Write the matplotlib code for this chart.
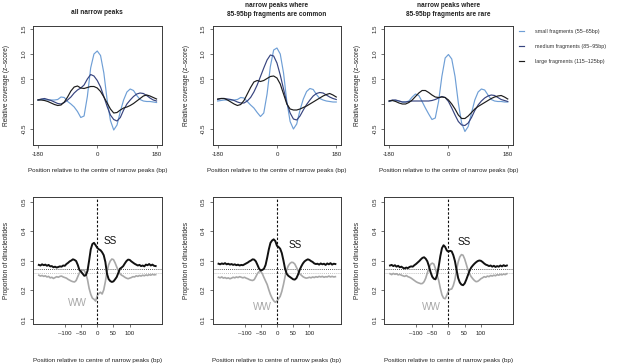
import numpy as np
import matplotlib
matplotlib.use("Agg")
from matplotlib import pyplot as plt

# ---- data: top row, relative coverage (z-score), every 10 bp ----
pos_top = list(range(-180, 181, 10))

small_all = [0.08, 0.09, 0.09, 0.08, 0.08, 0.08, 0.09, 0.14, 0.13, 0.05, 0.00, -0.06, -0.15,
             -0.27, -0.24, 0.15, 0.72, 1.00, 1.06, 0.97, 0.62, 0.08, -0.33, -0.52, -0.42,
             -0.15, 0.08, 0.24, 0.30, 0.27, 0.17, 0.09, 0.06, 0.05, 0.05, 0.04, 0.03]
medium_all = [0.08, 0.10, 0.11, 0.09, 0.07, 0.04, 0.01, 0.00, 0.03, 0.08, 0.14, 0.22, 0.28,
              0.32, 0.38, 0.50, 0.59, 0.56, 0.47, 0.34, 0.15, -0.05, -0.22, -0.31, -0.34,
              -0.27, -0.12, 0.00, 0.08, 0.15, 0.20, 0.22, 0.21, 0.17, 0.12, 0.08, 0.06]
large_all = [0.08, 0.08, 0.07, 0.05, 0.02, -0.01, -0.03, -0.02, 0.04, 0.14, 0.26, 0.34, 0.36,
             0.32, 0.31, 0.33, 0.35, 0.35, 0.32, 0.25, 0.14, 0.02, -0.10, -0.18, -0.17,
             -0.12, -0.08, -0.06, -0.03, 0.01, 0.06, 0.11, 0.16, 0.18, 0.16, 0.13, 0.10]

small_common = [0.06, 0.07, 0.08, 0.08, 0.08, 0.08, 0.09, 0.13, 0.12, 0.05, -0.02, -0.08, -0.17,
                -0.25, -0.18, 0.20, 0.75, 1.08, 1.12, 1.00, 0.62, 0.05, -0.35, -0.50, -0.40,
                -0.12, 0.10, 0.25, 0.31, 0.29, 0.19, 0.11, 0.08, 0.06, 0.05, 0.04, 0.04]
medium_common = [0.09, 0.11, 0.11, 0.10, 0.09, 0.07, 0.04, 0.02, 0.02, 0.06, 0.13, 0.24, 0.38,
                 0.55, 0.72, 0.88, 0.98, 0.96, 0.82, 0.58, 0.30, 0.02, -0.18, -0.30, -0.32,
                 -0.24, -0.12, -0.01, 0.08, 0.16, 0.21, 0.23, 0.22, 0.18, 0.14, 0.11, 0.09]
large_common = [0.10, 0.11, 0.11, 0.08, 0.04, 0.00, -0.03, -0.01, 0.07, 0.20, 0.33, 0.44, 0.47,
                0.45, 0.47, 0.51, 0.55, 0.56, 0.52, 0.40, 0.20, 0.00, -0.10, -0.12, -0.12,
                -0.10, -0.07, -0.04, 0.00, 0.04, 0.08, 0.12, 0.16, 0.19, 0.21, 0.18, 0.14]

small_rare = [0.05, 0.07, 0.07, 0.06, 0.04, 0.04, 0.06, 0.14, 0.20, 0.17, 0.05, -0.08, -0.20,
              -0.31, -0.28, 0.05, 0.55, 0.92, 0.99, 0.90, 0.55, 0.02, -0.38, -0.55, -0.45,
              -0.18, 0.08, 0.24, 0.30, 0.28, 0.18, 0.09, 0.06, 0.05, 0.05, 0.04, 0.04]
medium_rare = [0.06, 0.08, 0.08, 0.06, 0.04, 0.04, 0.05, 0.06, 0.06, 0.06, 0.06, 0.06, 0.06,
               0.07, 0.09, 0.12, 0.15, 0.13, 0.05, -0.08, -0.22, -0.35, -0.42, -0.43, -0.38,
               -0.27, -0.13, -0.02, 0.06, 0.12, 0.16, 0.18, 0.17, 0.13, 0.09, 0.07, 0.05]
large_rare = [0.06, 0.07, 0.05, 0.02, 0.00, 0.00, 0.03, 0.08, 0.15, 0.22, 0.27, 0.27, 0.23,
              0.18, 0.14, 0.13, 0.14, 0.13, 0.08, 0.00, -0.10, -0.22, -0.29, -0.29, -0.24,
              -0.17, -0.10, -0.05, -0.01, 0.03, 0.07, 0.11, 0.14, 0.16, 0.17, 0.14, 0.10]

# ---- data: bottom row, proportion of dinucleotides, every 5 bp ----
pos_bot = list(range(-180, 181, 5))

ss_all = [0.285, 0.283, 0.287, 0.284, 0.286, 0.282, 0.285, 0.280, 0.281, 0.277, 0.279, 0.276,
          0.278, 0.280, 0.279, 0.283, 0.282, 0.288, 0.292, 0.297, 0.300, 0.304, 0.302, 0.298,
          0.285, 0.268, 0.262, 0.255, 0.248, 0.250, 0.265, 0.300, 0.338, 0.356, 0.360, 0.352,
          0.343, 0.338, 0.335, 0.328, 0.318, 0.295, 0.255, 0.237, 0.230, 0.227, 0.229, 0.236,
          0.244, 0.258, 0.272, 0.276, 0.281, 0.290, 0.298, 0.303, 0.302, 0.297, 0.293, 0.289,
          0.286, 0.283, 0.285, 0.281, 0.283, 0.280, 0.286, 0.284, 0.288, 0.283, 0.286, 0.282, 0.281]
ww_all = [0.250, 0.247, 0.249, 0.246, 0.248, 0.244, 0.246, 0.241, 0.243, 0.239, 0.242, 0.245,
          0.243, 0.246, 0.247, 0.244, 0.242, 0.240, 0.236, 0.233, 0.230, 0.228, 0.227, 0.232,
          0.245, 0.258, 0.265, 0.268, 0.266, 0.255, 0.235, 0.205, 0.185, 0.172, 0.168, 0.162,
          0.180, 0.188, 0.192, 0.186, 0.200, 0.228, 0.262, 0.285, 0.298, 0.305, 0.303, 0.292,
          0.278, 0.265, 0.255, 0.250, 0.247, 0.243, 0.240, 0.238, 0.240, 0.242, 0.245, 0.244,
          0.248, 0.246, 0.249, 0.247, 0.250, 0.248, 0.251, 0.249, 0.252, 0.250, 0.253, 0.251, 0.252]

ss_common = [0.289, 0.287, 0.290, 0.288, 0.291, 0.287, 0.289, 0.286, 0.288, 0.285, 0.287, 0.284,
             0.286, 0.283, 0.285, 0.284, 0.287, 0.290, 0.293, 0.297, 0.300, 0.304, 0.303, 0.297,
             0.285, 0.272, 0.266, 0.268, 0.272, 0.285, 0.310, 0.338, 0.360, 0.368, 0.372, 0.366,
             0.350, 0.346, 0.340, 0.325, 0.300, 0.272, 0.255, 0.248, 0.244, 0.240, 0.236, 0.235,
             0.240, 0.252, 0.268, 0.280, 0.290, 0.297, 0.301, 0.304, 0.302, 0.298, 0.295, 0.290,
             0.288, 0.289, 0.286, 0.290, 0.287, 0.289, 0.285, 0.290, 0.287, 0.291, 0.286, 0.289, 0.288]
ww_common = [0.243, 0.241, 0.244, 0.240, 0.242, 0.239, 0.241, 0.238, 0.240, 0.243, 0.241, 0.244,
             0.242, 0.245, 0.243, 0.241, 0.243, 0.240, 0.238, 0.235, 0.233, 0.232, 0.235, 0.245,
             0.256, 0.262, 0.263, 0.255, 0.242, 0.230, 0.218, 0.200, 0.184, 0.172, 0.163, 0.158,
             0.162, 0.170, 0.178, 0.195, 0.218, 0.245, 0.268, 0.282, 0.290, 0.294, 0.293, 0.288,
             0.277, 0.265, 0.255, 0.250, 0.245, 0.242, 0.240, 0.241, 0.243, 0.241, 0.244, 0.242,
             0.245, 0.243, 0.246, 0.244, 0.246, 0.243, 0.245, 0.244, 0.247, 0.244, 0.246, 0.244, 0.245]

ss_rare = [0.283, 0.285, 0.281, 0.284, 0.279, 0.282, 0.277, 0.279, 0.275, 0.273, 0.276, 0.274,
           0.278, 0.280, 0.279, 0.284, 0.288, 0.293, 0.298, 0.304, 0.309, 0.311, 0.306, 0.297,
           0.280, 0.260, 0.245, 0.238, 0.236, 0.250, 0.280, 0.315, 0.342, 0.352, 0.346, 0.334,
           0.330, 0.333, 0.331, 0.318, 0.298, 0.268, 0.240, 0.225, 0.218, 0.216, 0.222, 0.235,
           0.250, 0.265, 0.276, 0.283, 0.289, 0.294, 0.298, 0.300, 0.299, 0.295, 0.290, 0.286,
           0.284, 0.281, 0.283, 0.279, 0.282, 0.278, 0.281, 0.279, 0.283, 0.280, 0.284, 0.281, 0.283]
ww_rare = [0.255, 0.252, 0.256, 0.253, 0.255, 0.251, 0.253, 0.250, 0.248, 0.246, 0.249, 0.245,
           0.243, 0.240, 0.236, 0.232, 0.228, 0.225, 0.223, 0.221, 0.222, 0.228, 0.240, 0.258,
           0.275, 0.287, 0.291, 0.288, 0.272, 0.250, 0.232, 0.205, 0.183, 0.172, 0.170, 0.182,
           0.196, 0.202, 0.203, 0.215, 0.235, 0.268, 0.295, 0.312, 0.320, 0.318, 0.305, 0.287,
           0.268, 0.255, 0.245, 0.238, 0.232, 0.228, 0.229, 0.233, 0.238, 0.241, 0.245, 0.243,
           0.247, 0.245, 0.249, 0.247, 0.250, 0.248, 0.252, 0.250, 0.253, 0.251, 0.254, 0.252, 0.255]

ss_mean = 0.272
ww_mean = 0.258

top_titles = ["all narrow peaks",
              "narrow peaks where\n85-95bp fragments are common",
              "narrow peaks where\n85-95bp fragments are rare"]
legend_labels = ["small fragments (55\u201365bp)", "medium fragments (85\u201395bp)",
                 "large fragments (115\u2013125bp)"]
top_xticks = [-180, 0, 180]
top_yticks = [-0.5, 0.0, 0.5, 1.0, 1.5]
top_yticklabels = ["-0.5", "", "0.5", "1.0", "1.5"]
bot_xticks = [-100, -50, 0, 50, 100]
bot_xticklabels = ["\u2013100", "\u201350", "0", "50", "100"]
bot_yticks = [0.1, 0.2, 0.3, 0.4, 0.5]

top_sets = [(small_all, medium_all, large_all),
            (small_common, medium_common, large_common),
            (small_rare, medium_rare, large_rare)]
bot_sets = [(ss_all, ww_all), (ss_common, ww_common), (ss_rare, ww_rare)]
# label positions (bp, proportion) for SS / WW
ss_label_at = [(40, 0.367), (55, 0.352), (50, 0.362)]
ww_label_at = [(-60, 0.155), (-45, 0.142), (-52, 0.142)]

plt.rcParams['font.family'] = ['Liberation Sans', 'DejaVu Sans']
plt.rcParams['axes.unicode_minus'] = False

col_small = "#6f9fd6"
col_medium = "#37447f"
col_large = "#1c1c1c"
frame_col = "#3a3a3a"

W, H = 617.0, 363.0
fig = plt.figure(figsize=(6.17, 3.63), dpi=100)

centres = [97.3, 277.0, 448.5]


def style_axes(ax):
    for s in ax.spines.values():
        s.set_color(frame_col)
        s.set_linewidth(0.7)
    ax.tick_params(direction='out', length=2.3, width=0.5, colors=frame_col,
                   labelsize=4.4, labelcolor="#222222", pad=2.5)


top_lines = None
for i in range(3):
    left = centres[i] - 64.3
    ax = fig.add_axes([left / W, (H - 145) / H, 128.5 / W, 119 / H])
    small, medium, large = top_sets[i]
    l1, = ax.plot(pos_top, small, color=col_small, lw=0.85)
    l2, = ax.plot(pos_top, medium, color=col_medium, lw=0.85)
    l3, = ax.plot(pos_top, large, color=col_large, lw=0.85)
    top_lines = [l1, l2, l3]
    ax.set_xlim(-195, 195)
    ax.set_ylim(-0.82, 1.56)
    ax.set_xticks(top_xticks)
    ax.set_yticks(top_yticks)
    ax.set_yticklabels(top_yticklabels, rotation=90, va='center')
    style_axes(ax)
    ax.set_xlabel("Position relative to the centre of narrow peaks (bp)", fontsize=4.5,
                  color="#222222", labelpad=8)
    ax.set_ylabel("Relative coverage (z\u2013score)", fontsize=4.7, color="#222222", labelpad=8)
    if i == 0:
        fig.text(centres[i] / W, 1 - 12.7 / H, top_titles[i], ha='center', va='center',
                 fontsize=4.7, fontweight='bold', color="#222222")
    else:
        fig.text(centres[i] / W, 1 - 9.8 / H, top_titles[i], ha='center', va='center',
                 fontsize=4.7, fontweight='bold', color="#222222", linespacing=1.35)

fig.legend(top_lines, legend_labels, loc='upper left', bbox_to_anchor=(514 / W, 1 - 24 / H),
           frameon=False, fontsize=3.9, handlelength=1.0, handletextpad=2.0,
           labelspacing=1.85, labelcolor="#333333")

for i in range(3):
    left = centres[i] - 64.3
    ax = fig.add_axes([left / W, (H - 324) / H, 128.5 / W, 127 / H])
    ss, ww = bot_sets[i]
    ax.axhline(ss_mean, color="#222222", lw=0.6, ls=(0, (1, 1.5)))
    ax.axhline(ww_mean, color="#aaaaaa", lw=0.6, ls=(0, (1, 1.5)))
    ax.plot(pos_bot, ww, color="#a8a8a8", lw=1.2)
    ax.plot(pos_bot, ss, color="#111111", lw=1.4)
    ax.axvline(0, color="#111111", lw=0.8, ls=(0, (2.2, 1.6)))
    ax.text(ss_label_at[i][0], ss_label_at[i][1], "SS", fontsize=7.2, color="#111111",
            ha='center', va='center')
    ax.text(ww_label_at[i][0], ww_label_at[i][1], "WW", fontsize=7.2, color="#a8a8a8",
            ha='center', va='center')
    ax.set_xlim(-198, 198)
    ax.set_ylim(0.084, 0.516)
    ax.set_xticks(bot_xticks)
    ax.set_xticklabels(bot_xticklabels)
    ax.set_yticks(bot_yticks)
    ax.set_yticklabels([str(v) for v in bot_yticks], rotation=90, va='center')
    style_axes(ax)
    ax.set_xlabel("Position relative to centre of narrow peaks (bp)", fontsize=4.5,
                  color="#222222", labelpad=16)
    ax.set_ylabel("Proportion of dinucleotides", fontsize=4.7, color="#222222", labelpad=8)

fig.savefig("out.png", dpi=100, facecolor="white")
